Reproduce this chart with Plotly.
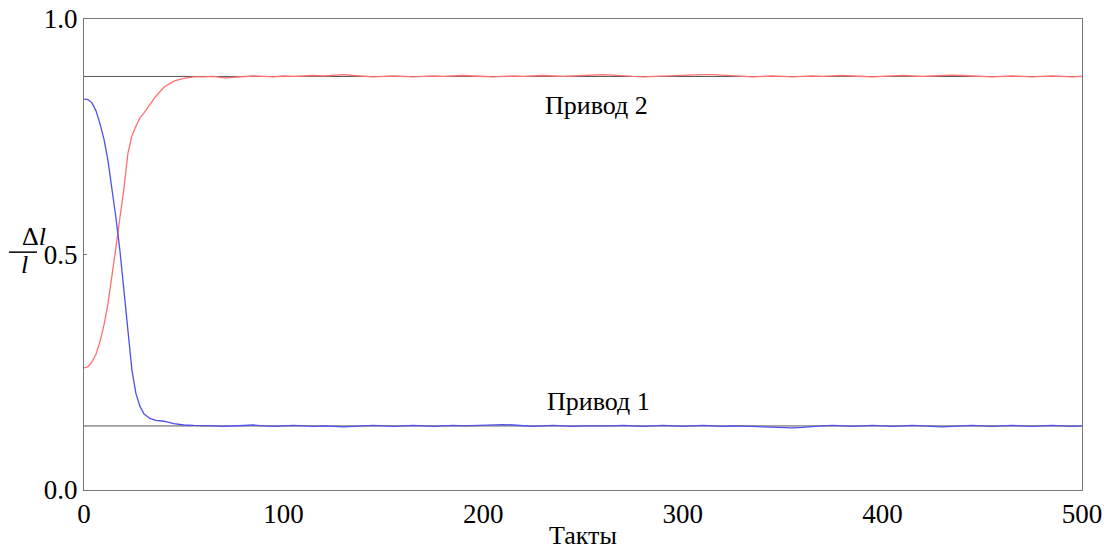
import plotly.graph_objects as go

# ---- data ----
x_transient = [0, 2, 4, 6, 8, 10, 12, 14, 16, 18, 20, 22, 24, 26, 28, 30, 33, 36, 40, 45, 50, 55]
red_transient = [0.259, 0.262, 0.272, 0.288, 0.315, 0.350, 0.395, 0.450, 0.515, 0.578, 0.640, 0.715,
                 0.752, 0.772, 0.790, 0.800, 0.818, 0.836, 0.855, 0.868, 0.874, 0.877]
blue_transient = [0.830, 0.829, 0.822, 0.805, 0.778, 0.745, 0.700, 0.640, 0.578, 0.508, 0.425, 0.330,
                  0.255, 0.205, 0.178, 0.162, 0.152, 0.148, 0.146, 0.141, 0.138, 0.137]

x_steady = list(range(60, 501, 5))
red_steady = [0.877, 0.878, 0.875, 0.876, 0.878, 0.879, 0.878, 0.877, 0.879, 0.878,
              0.879, 0.880, 0.879, 0.881, 0.882, 0.880, 0.878, 0.877, 0.878, 0.879,
              0.878, 0.877, 0.878, 0.879, 0.878, 0.879, 0.880, 0.879, 0.878, 0.877,
              0.878, 0.879, 0.878, 0.879, 0.880, 0.879, 0.878, 0.879, 0.880, 0.881,
              0.882, 0.881, 0.879, 0.878, 0.877, 0.878, 0.879, 0.880, 0.880, 0.881,
              0.882, 0.882, 0.881, 0.879, 0.878, 0.877, 0.878, 0.879, 0.878, 0.877,
              0.878, 0.879, 0.878, 0.879, 0.880, 0.879, 0.878, 0.877, 0.878, 0.879,
              0.880, 0.879, 0.878, 0.879, 0.880, 0.881, 0.880, 0.879, 0.878, 0.877,
              0.878, 0.879, 0.878, 0.877, 0.878, 0.879, 0.878, 0.877, 0.878]
blue_steady = [0.137, 0.136, 0.135, 0.136, 0.137, 0.138, 0.136, 0.135, 0.136, 0.137,
               0.136, 0.135, 0.136, 0.135, 0.134, 0.135, 0.136, 0.137, 0.136, 0.135,
               0.136, 0.137, 0.136, 0.135, 0.136, 0.137, 0.136, 0.137, 0.138, 0.138,
               0.139, 0.138, 0.136, 0.135, 0.136, 0.137, 0.136, 0.135, 0.136, 0.136,
               0.135, 0.136, 0.137, 0.136, 0.135, 0.136, 0.137, 0.136, 0.135, 0.136,
               0.137, 0.136, 0.135, 0.136, 0.136, 0.135, 0.134, 0.133, 0.132, 0.132,
               0.133, 0.135, 0.136, 0.137, 0.136, 0.135, 0.136, 0.137, 0.136, 0.135,
               0.136, 0.137, 0.136, 0.135, 0.134, 0.135, 0.136, 0.137, 0.136, 0.135,
               0.136, 0.137, 0.136, 0.135, 0.136, 0.137, 0.136, 0.135, 0.136]

target_levels = [0.878, 0.136]
label_texts = ["Привод 2", "Привод 1"]
label_x = [257, 258]
label_y = [0.817, 0.187]
x_ticks = [0, 100, 200, 300, 400, 500]
y_ticks = [0.0, 0.5, 1.0]
y_tick_text = ["0.0", "0.5", "1.0"]
x_title = "Такты"

FONT = "Liberation Serif"

fig = go.Figure()
for lvl in target_levels:
    fig.add_trace(go.Scatter(x=[0, 500], y=[lvl, lvl], mode="lines",
                             line=dict(color="#555555", width=1), showlegend=False))
fig.add_trace(go.Scatter(x=x_transient + x_steady, y=red_transient + red_steady, mode="lines",
                         line=dict(color="#ff7070", width=1.3), showlegend=False))
fig.add_trace(go.Scatter(x=x_transient + x_steady, y=blue_transient + blue_steady, mode="lines",
                         line=dict(color="#4f4ff0", width=1.3), showlegend=False))

for t, xx, yy in zip(label_texts, label_x, label_y):
    fig.add_annotation(x=xx, y=yy, text=t, showarrow=False,
                       font=dict(family=FONT, size=26, color="black"))

# x axis title
fig.add_annotation(x=250, xref="x", y=0, yref="paper", yshift=-45, text=x_title,
                   showarrow=False, yanchor="middle", borderpad=0,
                   font=dict(family=FONT, size=26, color="black"))

# y axis label as a fraction  Δl / l
fig.add_annotation(x=0, xref="paper", xshift=-63, y=0.538, yref="y", text="Δ<i>l</i>",
                   showarrow=False, borderpad=0, font=dict(family=FONT, size=26, color="black"))
fig.add_annotation(x=0, xref="paper", xshift=-64, y=0.478, yref="y", text="<i>l</i>",
                   showarrow=False, borderpad=0, font=dict(family=FONT, size=26, color="black"))
fig.add_shape(type="line", xref="paper", xsizemode="pixel", xanchor=0, x0=-75, x1=-47,
              yref="y", y0=0.505, y1=0.505, line=dict(color="black", width=1.5))

fig.update_layout(
    width=1104, height=546,
    margin=dict(l=84, r=22, t=19, b=56),
    paper_bgcolor="white", plot_bgcolor="white",
    font=dict(family=FONT, size=27, color="black"),
    xaxis=dict(range=[0, 500], tickvals=x_ticks, showgrid=False, zeroline=False,
               showline=True, linecolor="#777777", linewidth=1, mirror=True, automargin=False,
               ticks="", ticklabeloverflow="allow", tickfont=dict(family=FONT, size=27)),
    yaxis=dict(range=[0, 1], tickvals=y_ticks, ticktext=y_tick_text, showgrid=False, zeroline=False,
               showline=True, linecolor="#777777", linewidth=1, mirror=True, automargin=False,
               ticks="inside", ticklen=3, tickcolor="#777777", ticklabeloverflow="allow",
               tickfont=dict(family=FONT, size=27)),
)

fig.write_html("out.html", config={"displayModeBar": False},
               post_script="document.body.style.margin='0px';document.body.style.overflow='hidden';")
